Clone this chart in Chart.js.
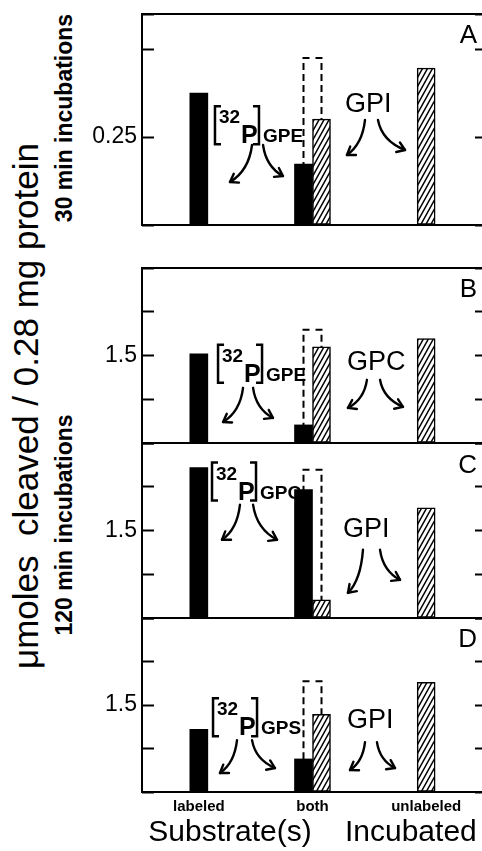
<!DOCTYPE html>
<html>
<head>
<meta charset="utf-8">
<script src="https://cdn.jsdelivr.net/npm/chart.js@4.4.0/dist/chart.umd.min.js"></script>
<style>
html, body { margin: 0; padding: 0; background: #fff; }
#wrap { position: relative; width: 482px; height: 851px; overflow: hidden; background: #fff;
        font-family: 'Liberation Sans', Arial, sans-serif; color: #000; }
#wrap canvas { position: absolute; left: 0; }
.vt { position: absolute; white-space: pre; line-height: 1; transform: translate(-50%, -50%) rotate(-90deg); }
</style>
</head>
<body>
<div id="wrap">
  <div class="vt" style="left:25px; top:406px; font-size:35px;">μmoles  cleaved / 0.28 mg protein</div>
  <div class="vt" style="left:64px; top:118px; font-size:23px; font-weight:bold;">30 min incubations</div>
  <div class="vt" style="left:64px; top:525px; font-size:23px; font-weight:bold;">120 min incubations</div>
  <canvas id="cA" width="500" height="219" style="top:10px"></canvas>
  <canvas id="cB" width="500" height="183" style="top:264px"></canvas>
  <canvas id="cC" width="500" height="183" style="top:439px"></canvas>
  <canvas id="cD" width="500" height="237" style="top:614px"></canvas>
</div>
<script>
// ---------------- data ----------------
const categories = ['labeled', 'both', 'unlabeled'];
const axisTitleX = 'Substrate(s)    Incubated';
const panelLetters = ['A', 'B', 'C', 'D'];
const labeledSubstrates = ['GPE', 'GPE', 'GPC', 'GPS'];
const unlabeledSubstrates = ['GPI', 'GPC', 'GPI', 'GPI'];
const tickLabelsA = ['0.25'];
const tickLabelsBCD = ['1.5'];

// black bars: [32P]-labeled substrate cleaved
const labeledA = [0.375, 0.173, null];
const labeledB = [1.53, 0.31, null];
const labeledC = [2.58, 2.20, null];
const labeledD = [1.08, 0.57, null];
// hatched bars: unlabeled substrate cleaved
const unlabeledA = [null, 0.301, 0.446];
const unlabeledB = [null, 1.65, 1.79];
const unlabeledC = [null, 0.31, 1.89];
const unlabeledD = [null, 1.34, 1.89];
// dashed outline: total cleaved when both incubated
const totalA = [null, 0.475, null];
const totalB = [null, 1.94, null];
const totalC = [null, 2.54, null];
const totalD = [null, 1.91, null];

// ---------------- styling ----------------
const FAMILY = "'Liberation Sans', Arial, sans-serif";

function makeHatch() {
  const w = 5, h = 9;
  const t = document.createElement('canvas');
  t.width = w; t.height = h;
  const c = t.getContext('2d');
  c.fillStyle = '#fff'; c.fillRect(0, 0, w, h);
  c.strokeStyle = '#000'; c.lineWidth = 1.5;
  c.beginPath();
  for (const k of [-1, 0, 1]) {
    c.moveTo(-w + k * w, 2 * h);
    c.lineTo(2 * w + k * w, -h);
  }
  c.stroke();
  return c.createPattern(t, 'repeat');
}
const hatch = makeHatch();

function fmt(v) { return String(Math.round(v * 100) / 100); }

function arrow(ctx, sx, sy, ex, ey) {
  const cx = sx + (ex - sx) * 0.15, cy = sy + (ey - sy) * 0.7;
  ctx.beginPath(); ctx.moveTo(sx, sy); ctx.quadraticCurveTo(cx, cy, ex, ey); ctx.stroke();
  const ang = Math.atan2(ey - cy, ex - cx), L = 9, sp = 0.6;
  ctx.beginPath();
  ctx.moveTo(ex - L * Math.cos(ang - sp), ey - L * Math.sin(ang - sp));
  ctx.lineTo(ex, ey);
  ctx.lineTo(ex - L * Math.cos(ang + sp), ey - L * Math.sin(ang + sp));
  ctx.stroke();
}

// annotation anchors in data units (category index, value)
const notes = [
  { iso: [0.142, 0.338], isoArrows: [[0.468, 0.2275, 0.274, 0.1223], [0.565, 0.2275, 0.740, 0.1393]],
    name: [1.286, 0.321], nameArrows: [[1.462, 0.2986, 1.303, 0.1991], [1.576, 0.2986, 1.814, 0.2133]],
    letter: [2.447, 0.5175] },
  { iso: [0.169, 1.685], isoArrows: [[0.389, 0.946, 0.213, 0.361], [0.477, 0.946, 0.652, 0.430]],
    name: [1.303, 1.255], nameArrows: [[1.479, 1.083, 1.312, 0.602], [1.594, 1.083, 1.796, 0.619]],
    letter: [2.447, 2.51] },
  { iso: [0.116, 2.665], isoArrows: [[0.362, 1.943, 0.204, 1.341], [0.477, 1.943, 0.688, 1.341]],
    name: [1.268, 1.393], nameArrows: [[1.444, 1.169, 1.312, 0.430], [1.594, 1.169, 1.770, 0.653]],
    letter: [2.447, 2.493] },
  { iso: [0.125, 1.616], isoArrows: [[0.336, 0.894, 0.186, 0.327], [0.468, 0.894, 0.670, 0.413]],
    name: [1.303, 1.100], nameArrows: [[1.462, 0.860, 1.330, 0.378], [1.567, 0.860, 1.726, 0.413]],
    letter: [2.447, 2.493] }
];

function makePlugin(p) {
  const spec = notes[p];
  return {
    id: 'panelDecor' + p,
    beforeDatasetsDraw(chart) {
      const ctx = chart.ctx;
      chart.data.datasets.forEach((ds, i) => {
        if (!ds.dashedOutline) return;
        const meta = chart.getDatasetMeta(i);
        meta.data.forEach((el, j) => {
          if (ds.data[j] == null) return;
          const { x, y, base, width } = el.getProps(['x', 'y', 'base', 'width'], true);
          const l = x - width / 2, r = x + width / 2;
          ctx.save();
          ctx.strokeStyle = '#000'; ctx.lineWidth = 2;
          ctx.setLineDash([7, 4]); ctx.lineDashOffset = 8;
          ctx.beginPath(); ctx.moveTo(x, y); ctx.lineTo(l, y); ctx.lineTo(l, base); ctx.stroke();
          ctx.beginPath(); ctx.moveTo(x, y); ctx.lineTo(r, y); ctx.lineTo(r, base); ctx.stroke();
          ctx.restore();
        });
      });
    },
    afterDatasetsDraw(chart) {
      const { ctx, chartArea: ca, scales } = chart;
      const px = u => scales.x.getPixelForValue(u);
      const py = v => scales.y.getPixelForValue(v);
      ctx.save();
      ctx.strokeStyle = '#000'; ctx.fillStyle = '#000';
      ctx.lineWidth = 2; ctx.setLineDash([]);
      ctx.strokeRect(ca.left, ca.top, ca.right - ca.left, ca.bottom - ca.top);

      // [32P] label with brackets
      const X0 = px(spec.iso[0]), Y0 = py(spec.iso[1]);
      ctx.lineWidth = 2.5;
      ctx.beginPath();
      ctx.moveTo(X0 + 6, Y0); ctx.lineTo(X0, Y0); ctx.lineTo(X0, Y0 + 38); ctx.lineTo(X0 + 6, Y0 + 38);
      ctx.moveTo(X0 + 38, Y0); ctx.lineTo(X0 + 44, Y0); ctx.lineTo(X0 + 44, Y0 + 38); ctx.lineTo(X0 + 38, Y0 + 38);
      ctx.stroke();
      ctx.textAlign = 'left'; ctx.textBaseline = 'alphabetic';
      ctx.font = 'bold 19px ' + FAMILY; ctx.fillText('32', X0 + 4, Y0 + 17);
      ctx.font = 'bold 25px ' + FAMILY; ctx.fillText('P', X0 + 26, Y0 + 37);
      ctx.font = 'bold 19px ' + FAMILY; ctx.fillText(labeledSubstrates[p], X0 + 48, Y0 + 36);

      // unlabeled substrate name
      ctx.font = '27px ' + FAMILY;
      ctx.fillText(unlabeledSubstrates[p], px(spec.name[0]), py(spec.name[1]));

      // panel letter
      ctx.textAlign = 'right';
      ctx.font = '26px ' + FAMILY;
      ctx.fillText(panelLetters[p], px(spec.letter[0]), py(spec.letter[1]));

      // arrows
      ctx.lineWidth = 2.4; ctx.lineCap = 'round'; ctx.lineJoin = 'round';
      for (const a of spec.isoArrows.concat(spec.nameArrows)) {
        arrow(ctx, px(a[0]), py(a[1]), px(a[2]), py(a[3]));
      }
      ctx.restore();
    }
  };
}

function noPad(s) { s.paddingTop = 0; s.paddingBottom = 0; s.paddingLeft = 0; s.paddingRight = 0; }

function makeChart(id, p, lab, unl, tot, max, step, tickLabels, showX) {
  const yCommon = { min: 0, max: max, border: { display: false } };
  const config = {
    type: 'bar',
    data: {
      labels: categories,
      datasets: [
        { label: 'labeled', data: lab, backgroundColor: '#000', borderWidth: 0,
          barThickness: 18, skipNull: true },
        { label: 'unlabeled', data: unl, backgroundColor: hatch, borderColor: '#000',
          borderWidth: 1.5, borderSkipped: false, barThickness: 18, skipNull: true },
        { label: 'both total', data: tot, grouped: false, backgroundColor: 'rgba(0,0,0,0)',
          borderWidth: 0, barThickness: 18, dashedOutline: true }
      ]
    },
    options: {
      responsive: false, animation: false, devicePixelRatio: 1,
      layout: { padding: { top: 4, bottom: showX ? 0 : 4, left: 0, right: 17 } },
      plugins: { legend: { display: false }, tooltip: { enabled: false } },
      scales: {
        x: {
          display: showX,
          offset: true,
          grid: { display: false, drawTicks: false },
          border: { display: false },
          ticks: { color: '#000', padding: 6, font: { family: FAMILY, size: 15, weight: 'bold' }, maxRotation: 0 },
          title: { display: showX, text: axisTitleX, color: '#000', padding: 0,
                   font: { family: FAMILY, size: 30 } },
          afterFit: s => { noPad(s); if (showX) s.height = 59; }
        },
        y: Object.assign({}, yCommon, {
          position: 'left',
          afterFit: s => { noPad(s); s.width = 142; },
          ticks: { stepSize: step, padding: 17, color: '#000',
                   font: { family: FAMILY, size: 23 },
                   callback: v => tickLabels.includes(fmt(v)) ? fmt(v) : '' },
          grid: { drawOnChartArea: false, tickLength: -12, tickWidth: 2, tickColor: '#000' }
        }),
        y2: Object.assign({}, yCommon, {
          position: 'right',
          afterFit: s => { noPad(s); s.width = 0; },
          ticks: { stepSize: step, display: false },
          grid: { drawOnChartArea: false, tickLength: -8, tickWidth: 2, tickColor: '#000' }
        })
      }
    },
    plugins: [makePlugin(p)]
  };
  return new Chart(document.getElementById(id), config);
}

makeChart('cA', 0, labeledA, unlabeledA, totalA, 0.6, 0.25, tickLabelsA, false);
makeChart('cB', 1, labeledB, unlabeledB, totalB, 3.0, 0.75, tickLabelsBCD, false);
makeChart('cC', 2, labeledC, unlabeledC, totalC, 3.0, 0.75, tickLabelsBCD, false);
makeChart('cD', 3, labeledD, unlabeledD, totalD, 3.0, 0.75, tickLabelsBCD, true);
</script>
</body>
</html>
